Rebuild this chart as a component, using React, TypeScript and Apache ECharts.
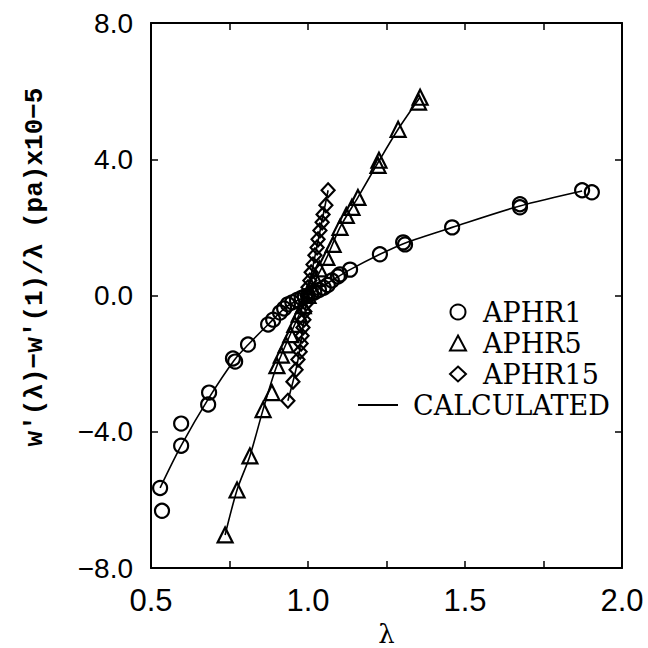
import React, { useEffect, useRef } from "react";
import * as echarts from "echarts";

// measured points [lambda, value x1e-5]
const aphr1: number[][] = [
  [0.529, -5.65], [0.535, -6.32], [0.596, -4.41], [0.596, -3.76], [0.685, -2.85], [0.682, -3.2],
  [0.761, -1.85], [0.768, -1.94], [0.809, -1.44], [0.873, -0.85], [0.889, -0.71], [0.911, -0.5],
  [0.924, -0.38], [0.936, -0.26], [0.95, -0.2], [0.965, -0.13], [0.98, -0.07], [0.99, -0.03],
  [1.0, 0.0], [1.01, 0.05], [1.02, 0.09], [1.035, 0.16], [1.05, 0.23], [1.063, 0.31],
  [1.076, 0.44], [1.095, 0.56], [1.102, 0.62], [1.134, 0.76], [1.229, 1.21], [1.303, 1.56],
  [1.309, 1.5], [1.459, 2.0], [1.675, 2.68], [1.675, 2.59], [1.873, 3.09], [1.904, 3.03],
];
const aphr5: number[][] = [
  [0.736, -7.03], [0.774, -5.71], [0.815, -4.71], [0.857, -3.35], [0.885, -2.85], [0.901, -2.06],
  [0.915, -1.75], [0.93, -1.45], [0.945, -1.15], [0.958, -0.85], [0.972, -0.55], [0.985, -0.3],
  [1.0, 0.0], [1.01, 0.25], [1.022, 0.5], [1.036, 0.78], [1.06, 1.12], [1.08, 1.5],
  [1.102, 2.0], [1.122, 2.35], [1.14, 2.59], [1.159, 2.88], [1.223, 3.82], [1.226, 3.97],
  [1.287, 4.88], [1.352, 5.68], [1.357, 5.82],
];
const aphr15: number[][] = [
  [0.936, -3.09], [0.952, -2.53], [0.962, -2.18], [0.968, -1.88], [0.975, -1.65], [0.978, -1.41],
  [0.981, -1.18], [0.984, -0.94], [0.987, -0.71], [0.99, -0.47], [0.994, -0.24], [0.997, 0.0],
  [1.0, 0.24], [1.006, 0.44], [1.01, 0.68], [1.016, 0.91], [1.022, 1.18], [1.029, 1.41],
  [1.032, 1.65], [1.038, 1.91], [1.045, 2.15], [1.048, 2.38], [1.057, 2.65], [1.064, 3.09],
];
// calculated curves
const calc1: number[][] = [
  [0.529, -5.65], [0.596, -4.41], [0.685, -3.0], [0.765, -1.9], [0.81, -1.44], [0.873, -0.85],
  [0.936, -0.3], [1.0, 0.0], [1.076, 0.44], [1.134, 0.76], [1.229, 1.21], [1.306, 1.53],
  [1.459, 2.0], [1.675, 2.63], [1.873, 3.07],
];
const calc5: number[][] = [
  [0.736, -7.03], [0.774, -5.71], [0.815, -4.71], [0.857, -3.35], [0.901, -2.06], [1.0, 0.0],
  [1.06, 1.12], [1.102, 2.0], [1.159, 2.88], [1.223, 3.9], [1.287, 4.88], [1.357, 5.82],
];
const calc15: number[][] = [
  [0.936, -3.09], [0.968, -1.9], [1.0, 0.1], [1.032, 1.6], [1.064, 3.09],
];

const xTicks = { min: 0.5, max: 2.0, interval: 0.25 };
const yTicks = { min: -8, max: 8, interval: 4 };
const yTitle = "w'(λ)−w'(1)/λ (pa)x10−5";
const xTitle = "λ";

export default function App() {
  const ref = useRef<HTMLDivElement>(null);
  useEffect(() => {
    if (!ref.current) return;
    const chart = echarts.init(ref.current, null, { renderer: "svg" });
    const axisLine = { show: true, onZero: false, lineStyle: { color: "#000", width: 2 } };
    const tick = { show: true, inside: true, length: 7, lineStyle: { color: "#000", width: 1.5 } };
    const mk = { color: "rgba(0,0,0,0)", borderColor: "#000", borderWidth: 2.2, opacity: 1 };
    const lineStyle = { color: "#000", width: 1.6 };
    const legendText = { fontSize: 27, lineHeight: 30, color: "#000", fontFamily: "DejaVu Serif" };
    chart.setOption({
      animation: false,
      backgroundColor: "#fff",
      grid: { left: 151, right: 26, top: 23, bottom: 80, containLabel: false, outerBoundsMode: "none" },
      xAxis: [
        {
          type: "value", position: "bottom", ...xTicks,
          axisLine, axisTick: tick, splitLine: { show: false },
          axisLabel: {
            margin: 17, fontSize: 31, color: "#000", fontFamily: "Liberation Sans",
            formatter: (v: number) => (Math.abs(v * 2 - Math.round(v * 2)) < 1e-6 ? v.toFixed(1) : ""),
          },
          name: xTitle, nameLocation: "middle", nameGap: 51,
          nameTextStyle: { fontSize: 26, color: "#000", fontFamily: "DejaVu Serif" },
        },
        {
          type: "value", position: "top", ...xTicks,
          axisLine, axisTick: tick, splitLine: { show: false }, axisLabel: { show: false },
        },
      ],
      yAxis: [
        {
          type: "value", position: "left", ...yTicks,
          axisLine, axisTick: tick, splitLine: { show: false },
          axisLabel: {
            margin: 18, fontSize: 28, color: "#000", fontFamily: "Liberation Sans",
            formatter: (v: number) => v.toFixed(1).replace("-", "−"),
          },
        },
        {
          type: "value", position: "right", ...yTicks,
          axisLine, axisTick: tick, splitLine: { show: false }, axisLabel: { show: false },
        },
      ],
      legend: [
        {
          data: ["APHR1", "APHR5", "APHR15"], orient: "vertical", left: 444, top: 292,
          itemWidth: 16, itemHeight: 15, itemGap: 1,
          textStyle: { ...legendText, padding: [0, 0, 0, 12] },
        },
        {
          data: [{ name: "CALCULATED", icon: "rect" }], orient: "vertical", left: 353, top: 385,
          itemWidth: 40, itemHeight: 2,
          itemStyle: { color: "#000" },
          textStyle: { ...legendText, padding: [0, 0, 0, 10] },
        },
      ],
      graphic: [
        {
          type: "text", x: 35, y: 267, rotation: Math.PI / 2,
          style: {
            text: yTitle, fontSize: 26, fontWeight: "bold", fontFamily: "Liberation Mono",
            fill: "#000", align: "center", verticalAlign: "middle",
          },
        },
      ],
      series: [
        { name: "APHR1", type: "scatter", data: aphr1, symbol: "circle", symbolSize: 14, itemStyle: mk, z: 2 },
        { name: "APHR5", type: "scatter", data: aphr5, symbol: "triangle", symbolSize: 15, itemStyle: mk, z: 2 },
        { name: "APHR15", type: "scatter", data: aphr15, symbol: "diamond", symbolSize: [13, 14], itemStyle: mk, z: 2 },
        { name: "CALCULATED", type: "line", data: calc1, symbol: "none", smooth: 0.3, lineStyle, itemStyle: { color: "#000" }, z: 3 },
        { name: "CALCULATED", type: "line", data: calc5, symbol: "none", smooth: 0.3, lineStyle, itemStyle: { color: "#000" }, z: 3 },
        { name: "CALCULATED", type: "line", data: calc15, symbol: "none", smooth: 0.3, lineStyle, itemStyle: { color: "#000" }, z: 3 },
      ],
    });
    return () => chart.dispose();
  }, []);
  return <div ref={ref} style={{ width: 648, height: 648, position: "absolute", left: 0, top: 0 }} />;
}
